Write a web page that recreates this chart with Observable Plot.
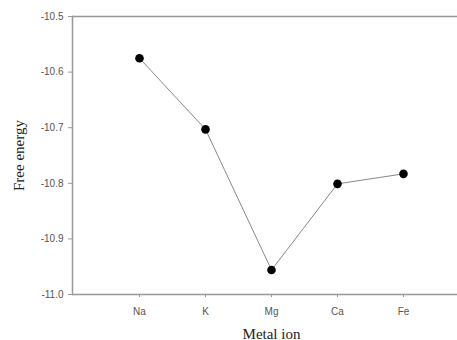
<!DOCTYPE html>
<html>
<head>
<meta charset="utf-8">
<script src="https://cdn.jsdelivr.net/npm/d3@7"></script>
<script src="https://cdn.jsdelivr.net/npm/@observablehq/plot@0.6"></script>
<style>
html,body{margin:0;padding:0;background:#fff;}
</style>
</head>
<body>
<div id="chart"></div>
<script>
const ions = ["Na", "K", "Mg", "Ca", "Fe"];
const freeEnergy = [-10.575, -10.703, -10.956, -10.801, -10.783];
const yTicks = [-11.0, -10.9, -10.8, -10.7, -10.6, -10.5];

const data = ions.map((ion, i) => ({ion, value: freeEnergy[i]}));

const chart = Plot.plot({
  width: 457,
  height: 340,
  marginTop: 16,
  marginBottom: 46,
  marginLeft: 72,
  marginRight: 0,
  style: {background: "#fff", fontFamily: "Arial, 'Liberation Sans', sans-serif", fontSize: "10px"},
  x: {type: "point", domain: ions, padding: 0, insetLeft: 67, insetRight: 54},
  y: {domain: [-11.0, -10.5]},
  marks: [
    Plot.ruleY([-10.5, -11.0], {stroke: "#999", strokeWidth: 1.5}),
    Plot.frame({anchor: "left", stroke: "#999", strokeWidth: 1.5}),
    Plot.axisY({ticks: yTicks, tickFormat: d => d.toFixed(1), tickSize: 4, tickPadding: 5, stroke: "#999", fill: "#555", label: null}),
    Plot.axisX({tickSize: 3, tickPadding: 10, stroke: "#999", fill: "#555", label: null}),
    Plot.text(["Free energy"], {frameAnchor: "left", dx: -53, rotate: -90, textAnchor: "middle", fontFamily: "'Liberation Serif', 'Times New Roman', serif", fontSize: 15, fill: "#222"}),
    Plot.text(["Metal ion"], {frameAnchor: "bottom", dy: 44, fontFamily: "'Liberation Serif', 'Times New Roman', serif", fontSize: 15, fill: "#222", x: () => "Mg"}),
    Plot.line(data, {x: "ion", y: "value", stroke: "#888", strokeWidth: 1}),
    Plot.dot(data, {x: "ion", y: "value", r: 4.3, fill: "#000", stroke: "none"})
  ]
});
document.getElementById("chart").appendChild(chart);
</script>
</body>
</html>
